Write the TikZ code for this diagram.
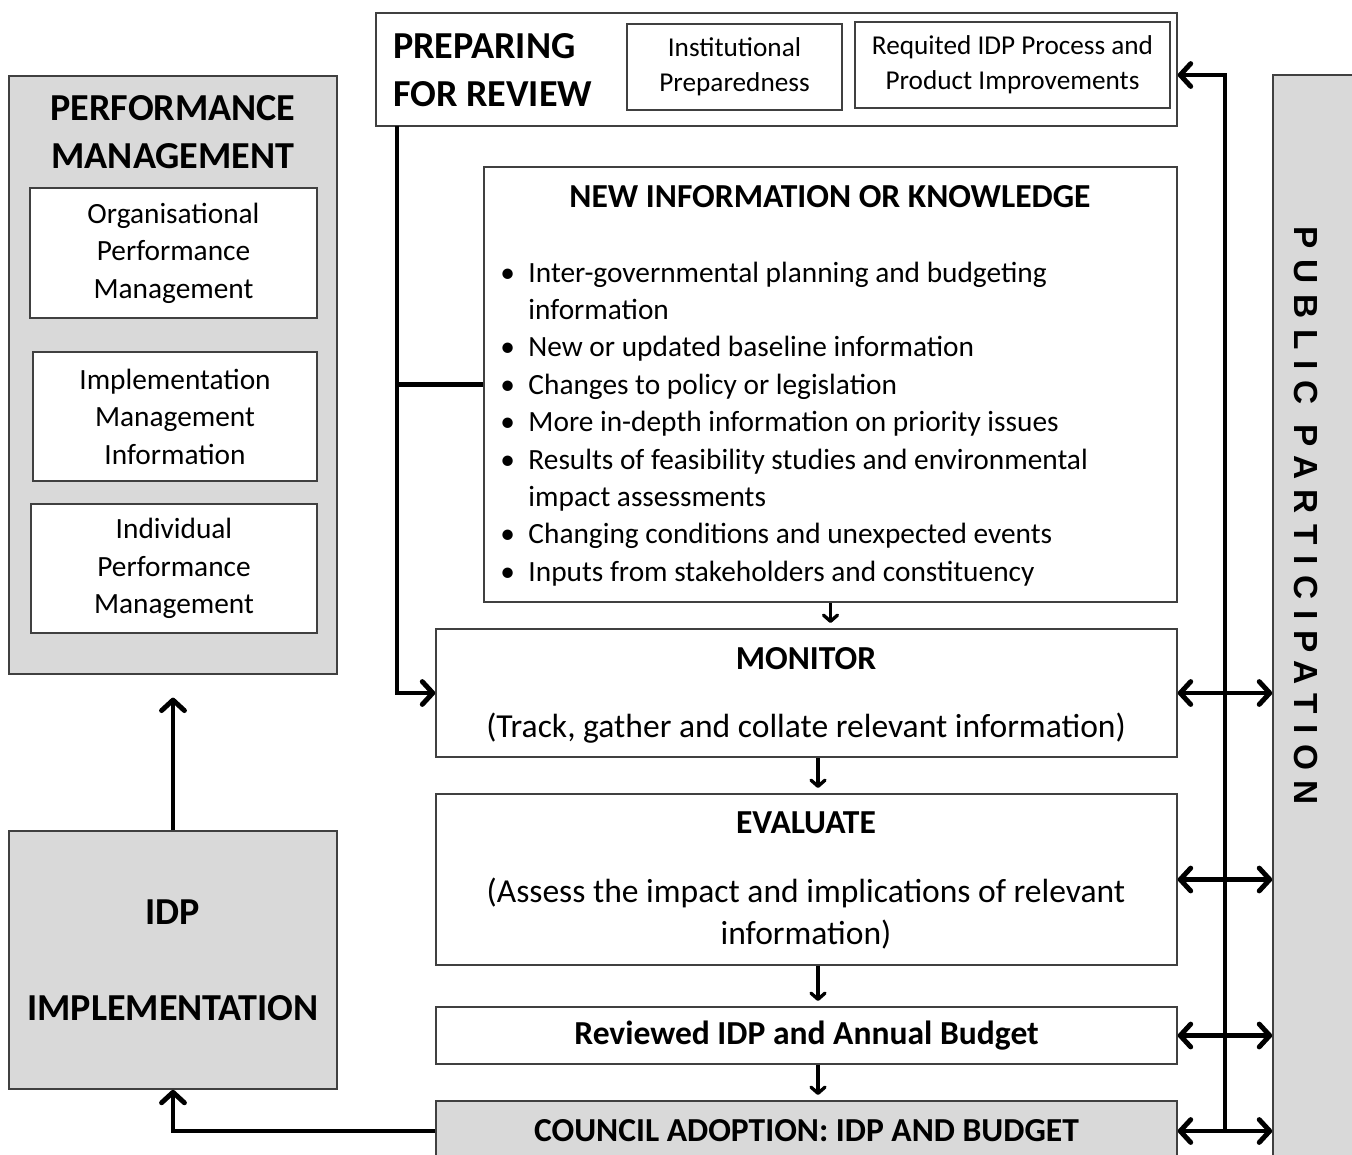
\documentclass[tikz,border=0pt]{standalone}
\usepackage{fontspec}
\setmainfont{Carlito}
\newfontfamily\ppfont{Liberation Sans}
\usetikzlibrary{arrows.meta}

\begin{document}
\begin{tikzpicture}[x=0.02cm, y=-0.02cm]
        \tikzstyle{grey_box}   = [shape = rectangle, draw = black!75, line width=0.9pt, fill = black!15, inner sep=0pt]
        \tikzstyle{white_box}  = [shape = rectangle, draw = black!75, line width=0.9pt, fill = white, inner sep=0pt]
        \tikzstyle{box_text}   = [align=center, font=\fontsize{16.7}{21.3}\selectfont]
        \tikzstyle{head_text}  = [align=center, font=\fontsize{21.7}{27.3}\selectfont\bfseries]
        \tikzstyle{sub_head}   = [align=center, font=\fontsize{19.1}{24}\selectfont\bfseries]
        \tikzstyle{flow}       = [line width=2.8pt, -{Straight Barb[length=6pt, width=13pt, round]}]
        \tikzstyle{flow_both}  = [line width=2.8pt, {Straight Barb[length=6pt, width=13pt, round]}-{Straight Barb[length=6pt, width=13pt, round]}]
        \tikzstyle{step_arrow} = [line width=1.9pt, -{Straight Barb[length=3.5pt, width=8pt, round]}, shorten >=3pt]

        \useasboundingbox (0,0) rectangle (1352,1154);
        \clip (0,0) rectangle (1352,1154);

        % preparing for review
        \node[white_box, minimum width=16.02cm, minimum height=2.26cm] at (776.5,  69.5) (prep) {};
        \node[head_text, align=left, anchor=west] at (387, 70) (prep_title) {PREPARING\\FOR REVIEW};
        \node[white_box, box_text, font=\fontsize{15.5}{19.8}\selectfont, minimum width=4.3cm, minimum height=1.72cm] at (734.5, 67) (inst) {Institutional\\Preparedness};
        \node[white_box, box_text, font=\fontsize{15.5}{19.8}\selectfont, minimum width=6.3cm, minimum height=1.72cm] at (1012.5, 65) (req) {Requited IDP Process and\\Product Improvements};

        % performance management
        \node[grey_box, minimum width=6.56cm, minimum height=11.96cm] at (173, 375) (pm) {};
        \node[head_text] at (173, 132) (pm_title) {PERFORMANCE\\MANAGEMENT};
        \node[white_box, box_text, minimum width=5.74cm, minimum height=2.6cm]  at (173.5, 253)   (org)   {Organisational\\Performance\\Management};
        \node[white_box, box_text, minimum width=5.68cm, minimum height=2.58cm] at (175,   416.5) (impl)  {Implementation\\Management\\Information};
        \node[white_box, box_text, minimum width=5.72cm, minimum height=2.58cm] at (174,   568.5) (indiv) {Individual\\Performance\\Management};

        \node[grey_box, head_text, minimum width=6.56cm, minimum height=5.16cm] at (173, 960) (idp) {IDP\\[27.3pt]IMPLEMENTATION};

        % new information
        \node[white_box, minimum width=13.86cm, minimum height=8.7cm] at (830.5, 384.5) (newinfo) {};
        \node[sub_head] at (830, 197) (newinfo_title) {NEW INFORMATION OR KNOWLEDGE};
        \node[box_text, align=left, anchor=base west, inner sep=0pt] at (500, 282) (newinfo_list) {%
          \begin{tabular}[t]{@{}p{16pt}@{}l@{}}
            \textbullet & Inter-governmental planning and budgeting\\
                        & information\\
            \textbullet & New or updated baseline information\\
            \textbullet & Changes to policy or legislation\\
            \textbullet & More in-depth information on priority issues\\
            \textbullet & Results of feasibility studies and environmental\\
                        & impact assessments\\
            \textbullet & Changing conditions and unexpected events\\
            \textbullet & Inputs from stakeholders and  constituency\\
          \end{tabular}};

        % review cycle
        \node[white_box, minimum width=14.82cm, minimum height=2.56cm] at (806.5, 693) (mon) {};
        \node[sub_head] at (806, 659) (mon_title) {MONITOR};
        \node[box_text, font=\fontsize{19.1}{24.4}\selectfont] at (806, 728) (mon_text) {(Track, gather and collate relevant information)};

        \node[white_box, minimum width=14.82cm, minimum height=3.42cm] at (806.5, 879.5) (eva) {};
        \node[sub_head] at (806, 823) (eva_title) {EVALUATE};
        \node[box_text, font=\fontsize{19.1}{24.4}\selectfont] at (806, 913.5) (eva_text) {(Assess the impact and implications of relevant\\information)};

        \node[white_box, sub_head, minimum width=14.82cm, minimum height=1.14cm] at (806.5, 1035.5) (rev) {Reviewed IDP and Annual Budget};
        \node[grey_box, sub_head, minimum width=14.82cm, minimum height=1.2cm] at (806.5, 1131) (coun) {COUNCIL ADOPTION: IDP AND BUDGET};

        % public participation
        \node[grey_box, minimum width=1.8cm, minimum height=21.7cm] at (1318, 617.5) (pp) {};
        \node[rotate=-90, font=\ppfont\fontsize{19}{24}\selectfont\bfseries\addfontfeatures{LetterSpace=32}] at (1306, 516) (pp_text) {PUBLIC\hspace{0.6em}PARTICIPATION};

        \coordinate (pp_top)  at (1225,   75);
        \coordinate (pp_bot)  at (1225, 1131);
        \coordinate (lft_top) at (397,   126);
        \coordinate (step_x)  at (818,     0);

        \draw[flow] (pp_bot) -- (pp_top) -- (prep.east |- pp_top);
        \path[flow_both]
          (mon.east)  edge (pp.west |- mon.east)
          (eva.east)  edge (pp.west |- eva.east)
          (rev.east)  edge (pp.west |- rev.east)
          (coun.east) edge (pp.west |- coun.east)
        ;

        \draw[flow] (lft_top) |- (mon.west);
        \draw[line width=2.8pt] (lft_top |- newinfo.west) -- (newinfo.west);

        \draw[flow, shorten >=13pt] (idp.north) -- (pm.south);
        \draw[flow] (coun.west) -| (idp.south);

        \path[step_arrow]
          (newinfo.south)       edge (newinfo.south |- mon.north)
          (mon.south -| step_x) edge (eva.north -| step_x)
          (eva.south -| step_x) edge (rev.north -| step_x)
          (rev.south -| step_x) edge (coun.north -| step_x)
        ;
\end{tikzpicture}
\end{document}
